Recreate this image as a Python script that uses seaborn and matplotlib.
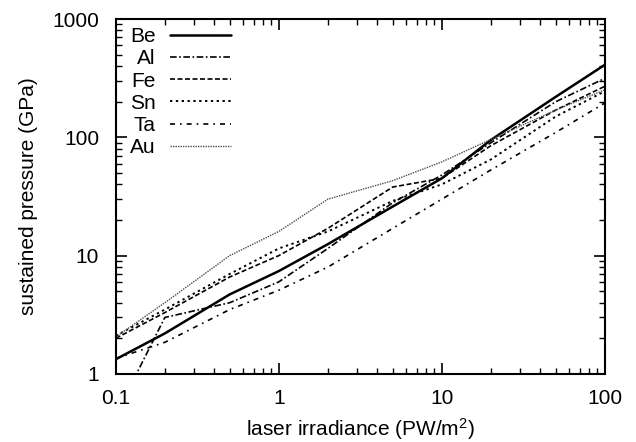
import pandas as pd
import seaborn as sns
import matplotlib.pyplot as plt
from matplotlib.ticker import LogLocator, FormatStrFormatter, NullFormatter

sns.set_style('ticks')
plt.rcParams['font.family'] = ['Liberation Sans', 'DejaVu Sans']
plt.rcParams['mathtext.fontset'] = 'custom'
plt.rcParams['mathtext.rm'] = 'Liberation Sans'
plt.rcParams['mathtext.it'] = 'Liberation Sans:italic'
plt.rcParams['text.color'] = 'black'
plt.rcParams['axes.labelcolor'] = 'black'

# laser irradiance (PW/m^2)
irradiance = [0.1, 0.2, 0.5, 1, 2, 5, 10, 20, 50, 100]

# sustained pressure (GPa)
be = [1.33, 2.2, 4.7, 7.4, 12.5, 26, 45, 95, 220, 410]
al = [0.45, 3.0, 4.0, 6.0, 11.5, 28, 48, 90, 200, 315]
fe = [2.0, 3.3, 6.6, 10, 17, 38, 45, 85, 170, 270]
sn = [2.1, 3.5, 7.0, 11.5, 16, 29, 40, 65, 150, 245]
ta = [1.35, 1.85, 3.5, 5.1, 8, 17, 30, 53, 110, 195]
au = [2.05, 4.0, 10, 16, 30, 43, 62, 96, 170, 252]

metals = ['Be', 'Al', 'Fe', 'Sn', 'Ta', 'Au']
series = [be, al, fe, sn, ta, au]

frames = []
for name, vals in zip(metals, series):
    frames.append(pd.DataFrame({'irradiance': irradiance, 'pressure': vals, 'metal': name}))
df = pd.concat(frames, ignore_index=True)

styles = {
    'Be': dict(linestyle='-', linewidth=1.8, color='black'),
    'Al': dict(linestyle=(0, (4, 1.5, 1, 1.5)), linewidth=1.2, color='black'),
    'Fe': dict(linestyle=(0, (3, 1.5)), linewidth=1.2, color='black'),
    'Sn': dict(linestyle=(0, (1.2, 1.8)), linewidth=1.4, color='black'),
    'Ta': dict(linestyle=(0, (3, 3, 1, 3)), linewidth=1.2, color='black'),
    'Au': dict(linestyle=(0, (1, 0.8)), linewidth=1.0, color='0.3'),
}

fig, ax = plt.subplots(figsize=(6.36, 4.42), dpi=100)
fig.subplots_adjust(left=0.182, right=0.951, bottom=0.154, top=0.957)

for name in metals:
    sub = df[df['metal'] == name]
    sns.lineplot(data=sub, x='irradiance', y='pressure', ax=ax, label=name,
                 estimator=None, sort=False, **styles[name])

ax.set_xscale('log')
ax.set_yscale('log')
ax.set_xlim(0.1, 100)
ax.set_ylim(1, 1000)

fs = 15
for axis in (ax.xaxis, ax.yaxis):
    axis.set_major_locator(LogLocator(base=10, numticks=10))
    axis.set_minor_locator(LogLocator(base=10, subs=range(2, 10), numticks=20))
    axis.set_major_formatter(FormatStrFormatter('%g'))
    axis.set_minor_formatter(NullFormatter())

ax.tick_params(which='major', direction='in', length=8, width=1.2,
               top=True, right=True, labelsize=fs, colors='black')
ax.tick_params(axis='x', which='major', pad=11)
ax.tick_params(axis='y', which='major', pad=12)
ax.tick_params(which='minor', direction='in', length=4, width=1.0,
               top=True, right=True, colors='black')
for sp in ax.spines.values():
    sp.set_linewidth(1.5)
    sp.set_color('black')

ax.set_xlabel(r'laser irradiance (PW/m$^2$)', fontsize=fs, labelpad=6)
ax.set_ylabel('sustained pressure (GPa)', fontsize=fs, labelpad=10)

leg = ax.legend(loc='upper left', bbox_to_anchor=(0.012, 1.0), frameon=False,
                markerfirst=False, fontsize=fs, handlelength=2.9,
                handletextpad=0.7, labelspacing=0.15, borderaxespad=0.0)
for t in leg.get_texts():
    t.set_color('black')

fig.savefig('out.png', dpi=100)
plt.close(fig)
